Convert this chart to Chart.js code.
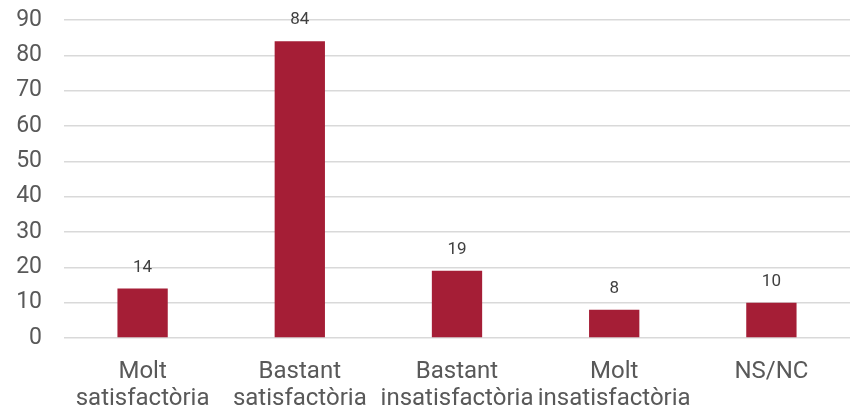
<!DOCTYPE html>
<html>
<head>
<meta charset="utf-8">
<script src="https://cdn.jsdelivr.net/npm/chart.js@4.4.1/dist/chart.umd.min.js"></script>
<style>
  html, body { margin: 0; padding: 0; background: #fff; }
  #wrap { width: 850px; height: 412px; }
</style>
</head>
<body>
<div id="wrap"><canvas id="grafic"></canvas></div>
<script>
var categories = [['Molt', 'satisfactòria'], ['Bastant', 'satisfactòria'], ['Bastant', 'insatisfactòria'], ['Molt', 'insatisfactòria'], 'NS/NC'];
var valors = [14, 84, 19, 8, 10];

// etiquetes de valor damunt de cada barra
var etiquetes = {
    id: 'etiquetes',
    afterDatasetsDraw: function(chart) {
        var ctx = chart.ctx;
        var meta = chart.getDatasetMeta(0);
        ctx.save();
        ctx.font = '17px Roboto';
        ctx.fillStyle = '#404040';
        ctx.textAlign = 'center';
        ctx.textBaseline = 'alphabetic';
        meta.data.forEach(function(bar, i) {
            ctx.fillText(valors[i], bar.x, bar.y - 17);
        });
        ctx.restore();
    }
};

var ctx = document.getElementById('grafic').getContext('2d');
var grafic = new Chart(ctx, {
    type: 'bar',
    data: {
        labels: categories,
        datasets: [{
            data: valors,
            backgroundColor: '#A51E36',
            barPercentage: 0.32,
            categoryPercentage: 1
        }]
    },
    options: {
        responsive: true,
        maintainAspectRatio: false,
        animation: false,
        layout: { padding: { top: 6, right: 0, left: 0, bottom: 0 } },
        plugins: {
            legend: { display: false },
            tooltip: { enabled: false }
        },
        scales: {
            x: {
                grid: { display: false, drawTicks: false },
                border: { display: false },
                ticks: {
                    color: '#595959',
                    font: { family: 'Roboto', size: 24, lineHeight: 1.15 },
                    maxRotation: 0,
                    autoSkip: false,
                    padding: 20
                },
                afterFit: function(scale) { scale.height = 74; }
            },
            y: {
                min: 0,
                max: 90,
                ticks: {
                    stepSize: 10,
                    color: '#595959',
                    font: { family: 'Roboto', size: 23 },
                    padding: 22
                },
                grid: { color: '#d9d9d9', lineWidth: 1.5, drawTicks: false },
                border: { display: false },
                afterFit: function(scale) {
                    scale.width = 64;
                    scale.paddingTop = 20;
                }
            }
        }
    },
    plugins: [etiquetes]
});
</script>
</body>
</html>
